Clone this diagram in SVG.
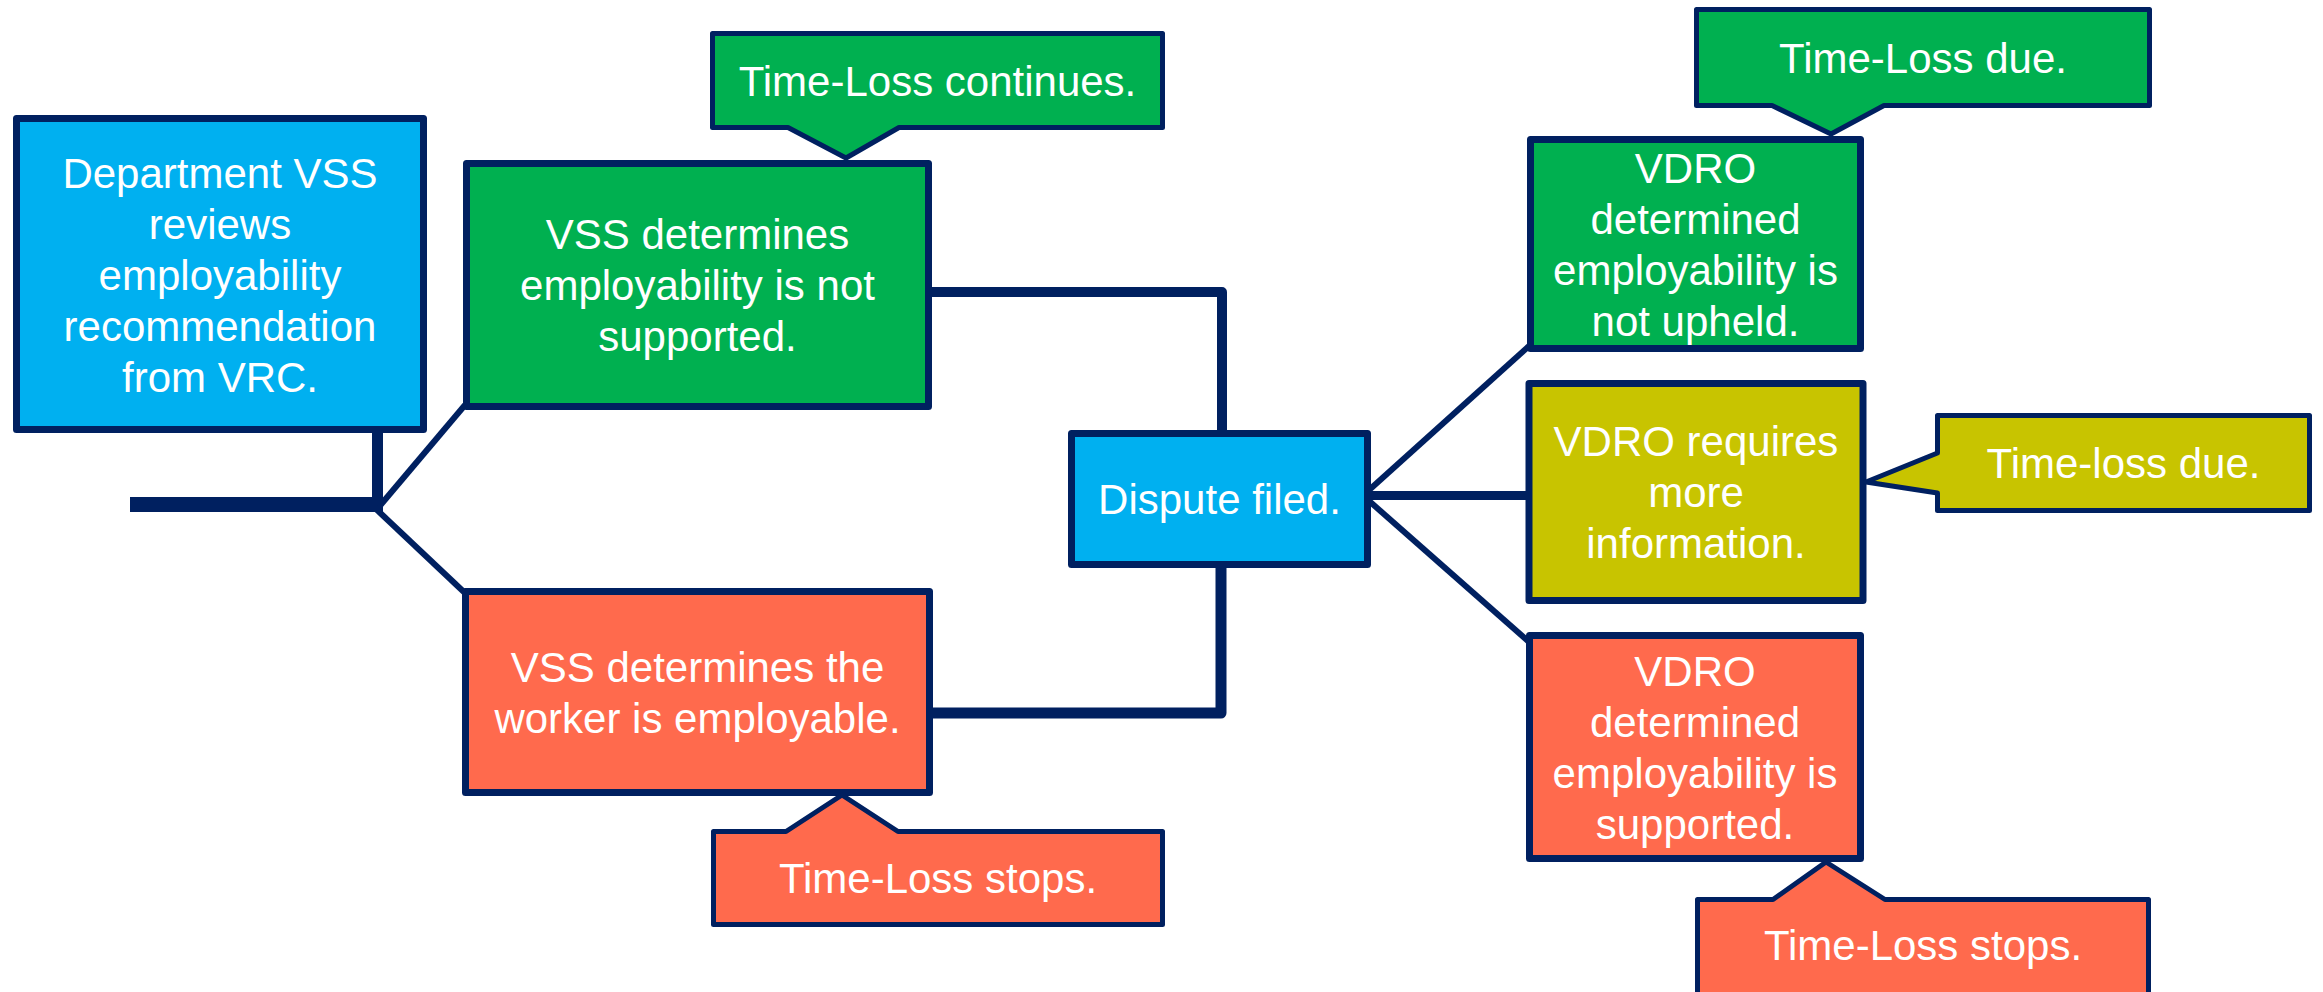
<svg xmlns="http://www.w3.org/2000/svg" width="2323" height="992" viewBox="0 0 2323 992">
<style>
.box{stroke:#002060;stroke-width:7;stroke-linejoin:round}
.call{stroke:#002060;stroke-width:5;stroke-linejoin:round}
.blue{fill:#00B0F0}.green{fill:#00B050}.orange{fill:#FF6A4D}.yellow{fill:#C8C400}
.conn{stroke:#002060;fill:none;stroke-linejoin:round}
text{font-family:"Liberation Sans",Arial,sans-serif;font-size:42px;fill:#FFFFFF;text-anchor:middle}
</style>
<rect width="2323" height="992" fill="#FFFFFF"/>
<g id="connectors">
<line class="conn" x1="130" y1="504.5" x2="383" y2="504.5" stroke-width="15"/>
<line class="conn" x1="377.5" y1="432" x2="377.5" y2="505" stroke-width="11"/>
<line class="conn" x1="378" y1="508" x2="465" y2="405" stroke-width="6"/>
<line class="conn" x1="375" y1="508" x2="465" y2="593" stroke-width="6"/>
<polyline class="conn" points="930,292 1222,292 1222,432" stroke-width="10"/>
<polyline class="conn" points="931,713 1221,713 1221,566" stroke-width="11"/>
<line class="conn" x1="1368" y1="491" x2="1529" y2="346" stroke-width="6"/>
<line class="conn" x1="1368" y1="495.5" x2="1528" y2="495.5" stroke-width="9"/>
<line class="conn" x1="1368" y1="500" x2="1529" y2="642" stroke-width="6"/>
</g>
<g id="dept">
<rect class="box blue" x="16.5" y="118.5" width="407" height="311"/>
<text x="220" y="187.5">Department VSS</text>
<text x="220" y="238.5">reviews</text>
<text x="220" y="289.5">employability</text>
<text x="220" y="340.5">recommendation</text>
<text x="220" y="391.5">from VRC.</text>
</g>
<g id="vss-not-supported">
<rect class="box green" x="466.5" y="163.5" width="462" height="243"/>
<text x="697.5" y="249">VSS determines</text>
<text x="697.5" y="300">employability is not</text>
<text x="697.5" y="351">supported.</text>
</g>
<g id="callout-continues">
<path class="call green" d="M712.5,33.5 H1162.5 V127.5 H899 L846,158 L788,127.5 H712.5 Z"/>
<text x="937.5" y="95.5">Time-Loss continues.</text>
</g>
<g id="vss-employable">
<rect class="box orange" x="465.5" y="591.5" width="464" height="201"/>
<text x="697.5" y="681.5">VSS determines the</text>
<text x="697.5" y="732.5">worker is employable.</text>
</g>
<g id="callout-stops-1">
<path class="call orange" d="M713.5,831.5 H786 L842,795 L898,831.5 H1162.5 V924.5 H713.5 Z"/>
<text x="938" y="893">Time-Loss stops.</text>
</g>
<g id="dispute">
<rect class="box blue" x="1071.5" y="433.5" width="296" height="131"/>
<text x="1219.5" y="514">Dispute filed.</text>
</g>
<g id="vdro-not-upheld">
<rect class="box green" x="1530.5" y="139.5" width="330" height="209"/>
<text x="1695.5" y="182.5">VDRO</text>
<text x="1695.5" y="233.5">determined</text>
<text x="1695.5" y="284.5">employability is</text>
<text x="1695.5" y="335.5">not upheld.</text>
</g>
<g id="callout-due-1">
<path class="call green" d="M1696.5,9.5 H2149.5 V105.5 H1884 L1831,134 L1772,105.5 H1696.5 Z"/>
<text x="1923" y="72.5">Time-Loss due.</text>
</g>
<g id="vdro-more-info">
<rect class="box yellow" x="1529" y="383.5" width="334" height="217"/>
<text x="1696" y="456">VDRO requires</text>
<text x="1696" y="507">more</text>
<text x="1696" y="558">information.</text>
</g>
<g id="callout-due-2">
<path class="call yellow" d="M1937.5,415.5 H2309.5 V510.5 H1937.5 V493 L1866,482 L1937.5,453 Z"/>
<text x="2123.5" y="478">Time-loss due.</text>
</g>
<g id="vdro-supported">
<rect class="box orange" x="1529.5" y="635.5" width="331" height="223"/>
<text x="1695" y="685.5">VDRO</text>
<text x="1695" y="736.5">determined</text>
<text x="1695" y="787.5">employability is</text>
<text x="1695" y="838.5">supported.</text>
</g>
<g id="callout-stops-2">
<path class="call orange" d="M1697.5,899.5 H1773 L1826,862 L1885,899.5 H2148.5 V995 H1697.5 Z"/>
<text x="1923" y="960">Time-Loss stops.</text>
</g>
</svg>
